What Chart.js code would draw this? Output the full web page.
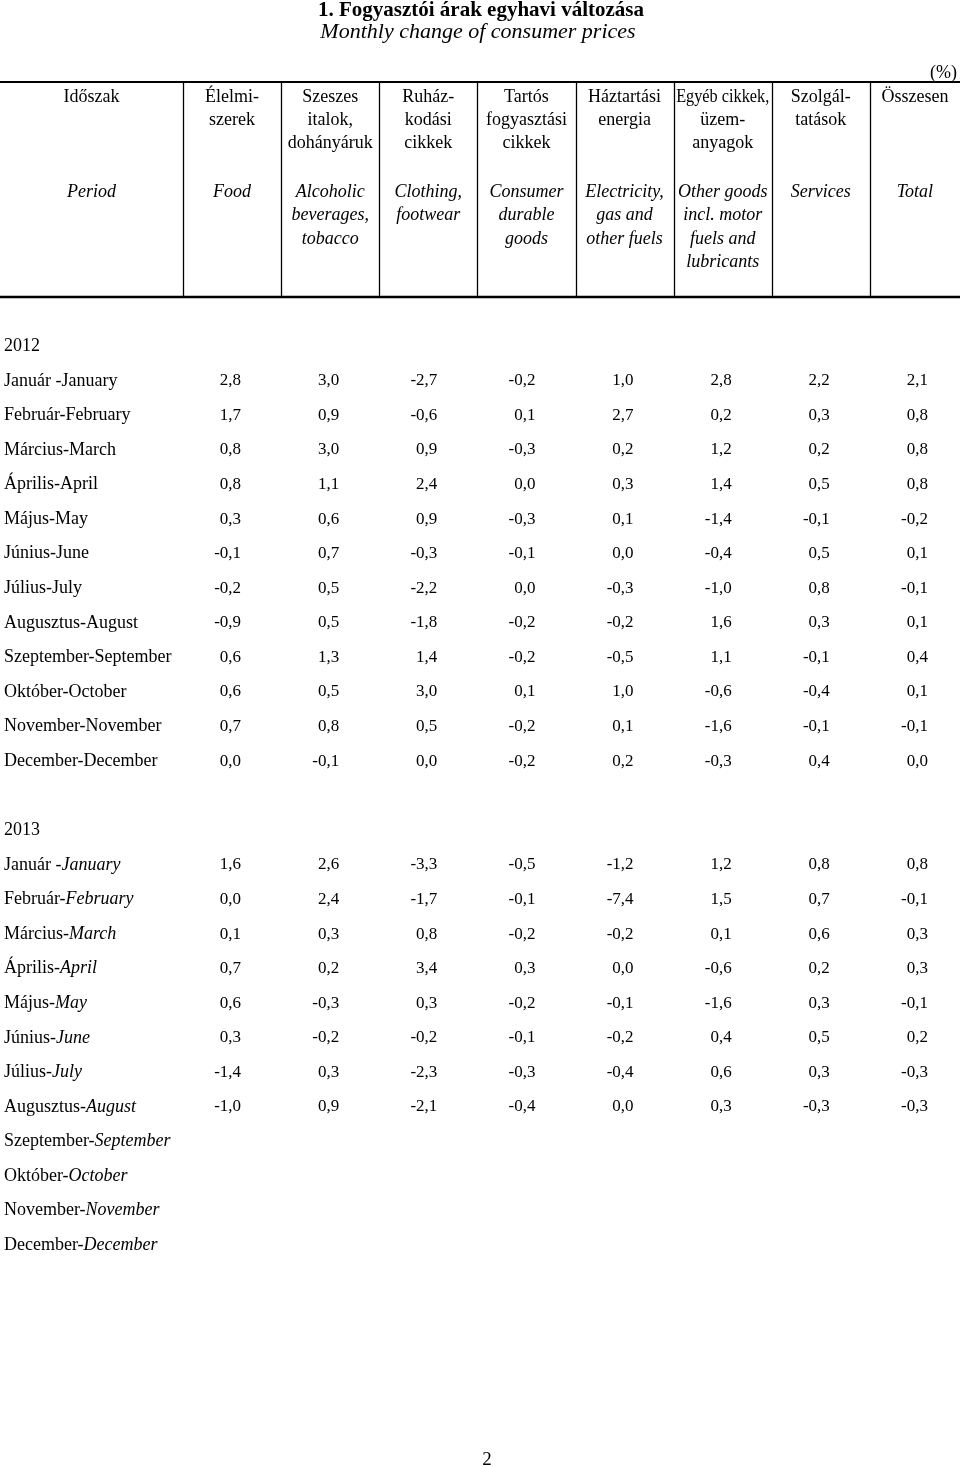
<!DOCTYPE html>
<html lang="hu">
<head>
<meta charset="utf-8">
<title>Fogyasztói árak egyhavi változása</title>
<script src="https://cdn.jsdelivr.net/npm/chart.js@4"></script>
<style>
    html, body { margin: 0; padding: 0; background: #fff; overflow: hidden; }
    #tabla { display: block; }
</style>
</head>
<body>
<!-- a vászon kicsit szélesebb a lapnál: az utolsó oszlop cellája túlnyúlik a lap szélén -->
<canvas id="tabla" width="968" height="1467"></canvas>
<script>
// Időszakok (sorok)
const years = ['2012', '2013'];
const monthsHu = ['Január -', 'Február-', 'Március-', 'Április-', 'Május-', 'Június-',
    'Július-', 'Augusztus-', 'Szeptember-', 'Október-', 'November-', 'December-'];
const monthsEn = ['January', 'February', 'March', 'April', 'May', 'June',
    'July', 'August', 'September', 'October', 'November', 'December'];

// Oszlopfejek
const columnKeys = ['food', 'alcohol', 'clothing', 'durable', 'energy', 'other', 'services', 'total'];
const headersHu = [
    ['Élelmi-', 'szerek'],
    ['Szeszes', 'italok,', 'dohányáruk'],
    ['Ruház-', 'kodási', 'cikkek'],
    ['Tartós', 'fogyasztási', 'cikkek'],
    ['Háztartási', 'energia'],
    ['Egyéb cikkek,', 'üzem-', 'anyagok'],
    ['Szolgál-', 'tatások'],
    ['Összesen']
];
const headersEn = [
    ['Food'],
    ['Alcoholic', 'beverages,', 'tobacco'],
    ['Clothing,', 'footwear'],
    ['Consumer', 'durable', 'goods'],
    ['Electricity,', 'gas and', 'other fuels'],
    ['Other goods', 'incl. motor', 'fuels and', 'lubricants'],
    ['Services'],
    ['Total']
];

// Havi változás, % (2012 jan-dec, majd 2013 jan-dec; null = nincs adat)
const food     = [2.8, 1.7, 0.8, 0.8, 0.3, -0.1, -0.2, -0.9, 0.6, 0.6, 0.7, 0.0,
                  1.6, 0.0, 0.1, 0.7, 0.6, 0.3, -1.4, -1.0, null, null, null, null];
const alcohol  = [3.0, 0.9, 3.0, 1.1, 0.6, 0.7, 0.5, 0.5, 1.3, 0.5, 0.8, -0.1,
                  2.6, 2.4, 0.3, 0.2, -0.3, -0.2, 0.3, 0.9, null, null, null, null];
const clothing = [-2.7, -0.6, 0.9, 2.4, 0.9, -0.3, -2.2, -1.8, 1.4, 3.0, 0.5, 0.0,
                  -3.3, -1.7, 0.8, 3.4, 0.3, -0.2, -2.3, -2.1, null, null, null, null];
const durable  = [-0.2, 0.1, -0.3, 0.0, -0.3, -0.1, 0.0, -0.2, -0.2, 0.1, -0.2, -0.2,
                  -0.5, -0.1, -0.2, 0.3, -0.2, -0.1, -0.3, -0.4, null, null, null, null];
const energy   = [1.0, 2.7, 0.2, 0.3, 0.1, 0.0, -0.3, -0.2, -0.5, 1.0, 0.1, 0.2,
                  -1.2, -7.4, -0.2, 0.0, -0.1, -0.2, -0.4, 0.0, null, null, null, null];
const other    = [2.8, 0.2, 1.2, 1.4, -1.4, -0.4, -1.0, 1.6, 1.1, -0.6, -1.6, -0.3,
                  1.2, 1.5, 0.1, -0.6, -1.6, 0.4, 0.6, 0.3, null, null, null, null];
const services = [2.2, 0.3, 0.2, 0.5, -0.1, 0.5, 0.8, 0.3, -0.1, -0.4, -0.1, 0.4,
                  0.8, 0.7, 0.6, 0.2, 0.3, 0.5, 0.3, -0.3, null, null, null, null];
const total    = [2.1, 0.8, 0.8, 0.8, -0.2, 0.1, -0.1, 0.1, 0.4, 0.1, -0.1, 0.0,
                  0.8, -0.1, 0.3, 0.3, -0.1, 0.2, -0.3, -0.3, null, null, null, null];

const seriesByColumn = [food, alcohol, clothing, durable, energy, other, services, total];

// Sorkulcsok: évfejléc, 12 hónap, üres sor a két év között
const rowKeys = [];
years.forEach((year, yi) => {
    if (yi > 0) rowKeys.push('gap');
    rowKeys.push(year);
    monthsHu.forEach((m, mi) => rowKeys.push(year + '-' + mi));
});

const serif = '"Liberation Serif", "Times New Roman", serif';
const pageWidth = 960;

function formatHu(v) {
    return v.toFixed(1).replace('.', ',');
}

// Adatpontok oszloponként: minden cella egy (oszlop, sor) pont
const datasets = columnKeys.map((key, ci) => {
    const points = [];
    seriesByColumn[ci].forEach((v, i) => {
        if (v === null) return;
        const year = years[Math.floor(i / 12)];
        points.push({ x: key, y: year + '-' + (i % 12), v: v });
    });
    return { label: key, data: points, pointRadius: 0, pointHoverRadius: 0 };
});

const tablePlugin = {
    id: 'tablePlugin',
    afterDatasetsDraw(chart) {
        const ctx = chart.ctx;
        const xs = chart.scales.x;
        const ys = chart.scales.y;
        const step = xs.getPixelForValue(1) - xs.getPixelForValue(0);
        const W = pageWidth;

        ctx.save();
        ctx.fillStyle = '#000';
        ctx.strokeStyle = '#000';

        // Cím
        ctx.textAlign = 'center';
        ctx.textBaseline = 'middle';
        ctx.font = 'bold 21px ' + serif;
        ctx.fillText('1. Fogyasztói árak egyhavi változása', 481, 11);
        ctx.font = 'italic 22px ' + serif;
        ctx.fillText('Monthly change of consumer prices', 478, 32);

        ctx.font = '18px ' + serif;
        ctx.textAlign = 'right';
        ctx.fillText('(%)', 957, 73);

        // Fejléc vonalai
        const headTop = 82, headBottom = 297;
        ctx.lineWidth = 2;
        ctx.beginPath();
        ctx.moveTo(0, headTop); ctx.lineTo(W, headTop);
        ctx.stroke();
        ctx.lineWidth = 2.5;
        ctx.beginPath();
        ctx.moveTo(0, headBottom); ctx.lineTo(W, headBottom);
        ctx.stroke();
        ctx.lineWidth = 1.3;
        for (let i = 0; i < columnKeys.length; i++) {
            const edge = Math.round(xs.getPixelForValue(i) - step / 2) + 0.5;
            ctx.beginPath();
            ctx.moveTo(edge, headTop); ctx.lineTo(edge, headBottom);
            ctx.stroke();
        }

        // Fejléc szövegei (a túl széles sorokat a cellába szorítjuk)
        ctx.textAlign = 'center';
        const periodX = (xs.getPixelForValue(0) - step / 2) / 2;
        ctx.font = '18px ' + serif;
        ctx.fillText('Időszak', periodX, 97);
        ctx.font = 'italic 18px ' + serif;
        ctx.fillText('Period', periodX, 192);
        const maxW = step - 5;
        columnKeys.forEach((key, ci) => {
            // az utolsó oszlop a lap szélénél véget ér
            const cx = ci === columnKeys.length - 1
                ? (xs.getPixelForValue(ci) - step / 2 + W) / 2
                : xs.getPixelForValue(ci);
            ctx.font = '18px ' + serif;
            headersHu[ci].forEach((line, li) => ctx.fillText(line, cx, 97 + li * 23.2, maxW));
            ctx.font = 'italic 18px ' + serif;
            headersEn[ci].forEach((line, li) => ctx.fillText(line, cx, 192 + li * 23.4, maxW));
        });

        // Időszak feliratok
        ctx.textAlign = 'left';
        rowKeys.forEach((key, ri) => {
            if (key === 'gap') return;
            const y = ys.getPixelForValue(ri);
            ctx.font = '18px ' + serif;
            if (years.includes(key)) {
                ctx.fillText(key, 4, y);
                return;
            }
            const [year, mi] = key.split('-');
            const hu = monthsHu[+mi];
            const huW = ctx.measureText(hu).width;
            ctx.fillText(hu, 4, y);
            if (year === '2013') ctx.font = 'italic 18px ' + serif;
            ctx.fillText(monthsEn[+mi], 4 + huW, y);
        });

        // Értékek
        ctx.font = '17px ' + serif;
        ctx.textAlign = 'right';
        chart.data.datasets.forEach((ds, di) => {
            const meta = chart.getDatasetMeta(di);
            meta.data.forEach((pt, i) => {
                ctx.fillText(formatHu(ds.data[i].v), pt.x + 9, pt.y);
            });
        });

        // Oldalszám
        ctx.textAlign = 'center';
        ctx.font = '19px ' + serif;
        ctx.fillText('2', 487, 1460);

        ctx.restore();
    }
};

new Chart(document.getElementById('tabla'), {
    type: 'scatter',
    data: { datasets: datasets },
    options: {
        responsive: false,
        animation: false,
        events: [],
        layout: { padding: { left: 183, right: 0, top: 329, bottom: 204.5 } },
        scales: {
            x: { type: 'category', labels: columnKeys, offset: true, display: false },
            y: { type: 'category', labels: rowKeys, offset: true, display: false }
        },
        plugins: {
            legend: { display: false },
            tooltip: { enabled: false }
        }
    },
    plugins: [tablePlugin]
});
</script>
</body>
</html>
